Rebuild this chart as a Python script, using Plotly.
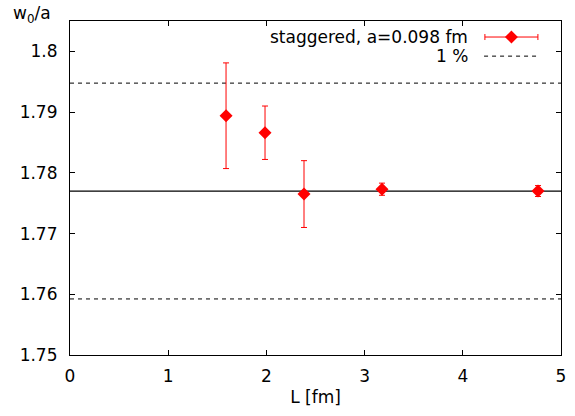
import plotly.graph_objects as go

# Data
L_fm = [1.589, 1.986, 2.383, 3.177, 4.766]
w0_a = [1.7894, 1.7866, 1.7765, 1.7773, 1.7770]
w0_err = [0.0087, 0.0044, 0.0055, 0.0010, 0.0009]
ref_value = 1.777
band_pct = 0.01
x_range = [0, 5]
y_range = [1.75, 1.805]
x_ticks = [0, 1, 2, 3, 4, 5]
y_ticks = [1.75, 1.76, 1.77, 1.78, 1.79, 1.8]
y_ticklabels = ["1.75", "1.76", "1.77", "1.78", "1.79", "1.8"]
series_name = "staggered, a=0.098 fm"
band_name = "1 %"

FONT = "DejaVu Sans, Liberation Sans, Arial, sans-serif"
FS = 17
RED = "#ff0000"
DASH = "4px,4px"

fig = go.Figure()

# reference lines
fig.add_trace(go.Scatter(x=x_range, y=[ref_value, ref_value], mode="lines",
                         line=dict(color="black", width=1.2), showlegend=False,
                         hoverinfo="skip"))
for s in (1 + band_pct, 1 - band_pct):
    fig.add_trace(go.Scatter(x=x_range, y=[ref_value * s] * 2, mode="lines",
                             line=dict(color="black", width=1, dash=DASH),
                             showlegend=False, hoverinfo="skip"))

# data
fig.add_trace(go.Scatter(
    x=L_fm, y=w0_a, mode="markers",
    marker=dict(symbol="diamond", size=10, color=RED, line=dict(width=0)),
    error_y=dict(type="data", array=w0_err, visible=True, color=RED,
                 thickness=1, width=3),
    showlegend=False, name=series_name))

# manual gnuplot-style legend (sample to the right of text)
fig.add_trace(go.Scatter(
    x=[0.899], y=[0.952], xaxis="x2", yaxis="y2", mode="markers",
    marker=dict(symbol="diamond", size=10, color=RED, line=dict(width=0)),
    error_x=dict(type="constant", value=0.054, visible=True, color=RED,
                 thickness=1, width=3),
    showlegend=False, hoverinfo="skip"))
fig.add_trace(go.Scatter(
    x=[0.8433, 0.951], y=[0.8948, 0.8948], xaxis="x2", yaxis="y2", mode="lines",
    line=dict(color="black", width=1, dash=DASH),
    showlegend=False, hoverinfo="skip"))

fig.add_annotation(x=0.8155, y=0.952, xref="paper", yref="paper",
                   text=series_name, showarrow=False, xanchor="right",
                   yanchor="middle", font=dict(family=FONT, size=FS, color="black"))
fig.add_annotation(x=0.8155, y=0.8948, xref="paper", yref="paper",
                   text=band_name, showarrow=False, xanchor="right",
                   yanchor="middle", font=dict(family=FONT, size=FS, color="black"))

# y-axis title at top-left
fig.add_annotation(x=-0.12, y=1.02, xref="paper", yref="paper",
                   text="w<sub>0</sub>/a", showarrow=False, xanchor="left",
                   yanchor="middle", font=dict(family=FONT, size=FS, color="black"))

axis_common = dict(showgrid=False, zeroline=False, showline=True,
                   linecolor="black", linewidth=1.2, mirror="allticks",
                   ticks="inside", ticklen=5, tickcolor="black", tickwidth=1,
                   tickfont=dict(family=FONT, size=FS, color="black"))

fig.update_layout(
    width=575, height=416,
    margin=dict(l=70, r=9, t=21, b=61),
    paper_bgcolor="white", plot_bgcolor="white",
    font=dict(family=FONT, size=FS, color="black"),
    xaxis=dict(range=x_range, tickvals=x_ticks, ticklabelstandoff=5,
               title=dict(text="L [fm]", font=dict(family=FONT, size=FS),
                          standoff=6),
               **axis_common),
    yaxis=dict(range=y_range, tickvals=y_ticks, ticktext=y_ticklabels,
               ticklabelstandoff=8, **axis_common),
    xaxis2=dict(range=[0, 1], overlaying="x", visible=False, fixedrange=True),
    yaxis2=dict(range=[0, 1], overlaying="y", visible=False, fixedrange=True),
    showlegend=False,
)

fig.write_html("out.html", config={"displayModeBar": False},
               post_script="document.body.style.margin='0';document.body.style.padding='0';")
